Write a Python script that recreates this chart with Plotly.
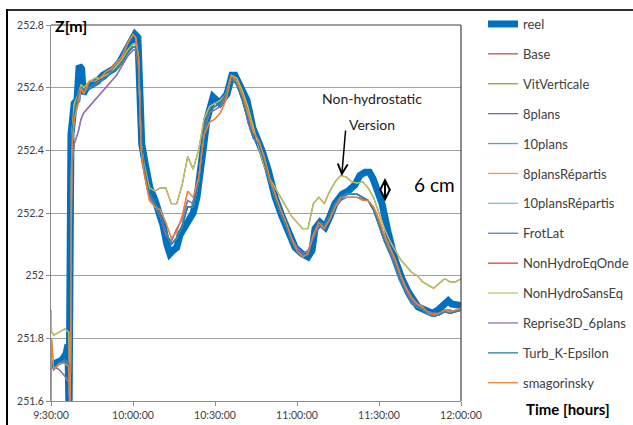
import plotly.graph_objects as go
from datetime import datetime, timedelta

# ---------------- data (minutes after 9:30:00, water level Z in m) ----------------
T_REEL = [0, 2, 4, 5.5, 6.2, 6.6, 7.3, 8.5, 9.5, 10.3, 11.2, 11.8, 13, 15, 17, 19, 21, 23, 25, 27, 29,
          30.7, 31.8, 32.6, 33.2, 34.4, 36.2, 38.1, 39.9, 41, 42.4, 43.5, 44.6, 46, 47.2, 49, 50.9, 52,
          53.4, 55, 55.6, 57.1, 59.3, 61.8, 64.4, 66.2, 67.3, 69.2, 71.7, 73.9, 75.5, 77.2, 79.4, 82,
          84.5, 86.7, 89.3, 91.8, 94, 95.5, 96.6, 98.4, 100.3, 102.1, 103.9, 106.5, 108.7, 111.2, 113,
          114.9, 116.5, 117.8, 119.5, 121.1, 123.3, 125.9, 128.4, 130.6, 134.3, 137.9, 139.5, 141.6,
          143, 145.3, 146.5, 147.8, 150]
Z_REEL = [251.715, 251.72, 251.73, 251.75, 251.78, 251.55, 252.45, 252.55, 252.56, 252.67, 252.66,
          252.58, 252.60, 252.61, 252.62, 252.64, 252.65, 252.66, 252.68, 252.71, 252.74,
          252.77, 252.76, 252.60, 252.42, 252.36, 252.28, 252.24, 252.19, 252.16, 252.10, 252.07,
          252.08, 252.09, 252.13, 252.16, 252.18, 252.20, 252.25, 252.35, 252.41, 252.50, 252.57,
          252.55, 252.58, 252.64, 252.64, 252.61, 252.56, 252.47, 252.44, 252.40, 252.34, 252.25,
          252.19, 252.14, 252.09, 252.07, 252.06, 252.08, 252.15, 252.17, 252.155, 252.19, 252.23,
          252.26, 252.27, 252.29, 252.32, 252.33, 252.33, 252.31, 252.27, 252.23, 252.14, 252.05,
          251.99, 251.95, 251.90, 251.885, 251.88, 251.89, 251.90, 251.92, 251.91, 251.91, 251.905]

T_MOD = [0, 0.2, 1, 3, 5, 6.5, 7, 7.6, 8.5, 10, 11, 12, 14, 16, 18, 20, 22, 24, 26, 28, 30, 31, 32, 33,
         34, 36, 38, 40, 42, 44, 46, 48, 50, 52, 54, 56, 58, 60, 62, 64, 66, 68, 70, 72, 74, 76, 78, 80,
         82, 84, 86, 88, 90, 92, 94, 96, 98, 100, 102, 104, 106, 108, 110, 112, 114, 116, 118, 120,
         122, 124, 126, 128, 130, 132, 134, 136, 138, 140, 142, 144, 146, 148, 150]

Z_SMAG = [251.60, 251.80, 251.70, 251.72, 251.72, 251.71, 251.55, 252.40, 252.50, 252.55, 252.60,
          252.58, 252.62, 252.62, 252.63, 252.65, 252.66, 252.68, 252.70, 252.74, 252.77, 252.76,
          252.70, 252.40, 252.33, 252.24, 252.22, 252.21, 252.17, 252.12, 252.14, 252.19, 252.27,
          252.25, 252.31, 252.45, 252.49, 252.50, 252.52, 252.56, 252.64, 252.62, 252.58, 252.52,
          252.46, 252.43, 252.38, 252.31, 252.26, 252.21, 252.17, 252.12, 252.08, 252.06, 252.07,
          252.13, 252.17, 252.15, 252.18, 252.22, 252.25, 252.25, 252.25, 252.25, 252.24, 252.24,
          252.22, 252.18, 252.13, 252.09, 252.05, 252.00, 251.96, 251.93, 251.91, 251.90, 251.88,
          251.875, 251.88, 251.89, 251.885, 251.89, 251.895]

Z_BASE = [251.70, 251.72, 251.70, 251.72, 251.73, 251.72, 251.55, 252.45, 252.52, 252.58, 252.60,
          252.59, 252.60, 252.61, 252.62, 252.63, 252.65, 252.66, 252.68, 252.71, 252.73, 252.73,
          252.68, 252.42, 252.35, 252.26, 252.23, 252.19, 252.14, 252.10, 252.12, 252.16, 252.22,
          252.22, 252.30, 252.47, 252.53, 252.54, 252.55, 252.58, 252.63, 252.61, 252.56, 252.50,
          252.44, 252.42, 252.36, 252.30, 252.25, 252.20, 252.16, 252.11, 252.08, 252.06, 252.07,
          252.13, 252.17, 252.16, 252.19, 252.23, 252.25, 252.26, 252.26, 252.26, 252.25, 252.24,
          252.21, 252.16, 252.11, 252.07, 252.03, 251.98, 251.94, 251.91, 251.90, 251.89, 251.88,
          251.87, 251.875, 251.885, 251.88, 251.885, 251.89]

Z_8PLANS = [251.72, 251.72, 251.71, 251.70, 251.68, 251.66, 251.55, 252.35, 252.42, 252.46, 252.50,
            252.52, 252.54, 252.56, 252.58, 252.60, 252.62, 252.64, 252.67, 252.70, 252.72, 252.72,
            252.67, 252.42, 252.34, 252.25, 252.22, 252.19, 252.13, 252.11, 252.15, 252.18, 252.24,
            252.23, 252.30, 252.46, 252.52, 252.53, 252.54, 252.57, 252.63, 252.61, 252.57, 252.49,
            252.44, 252.42, 252.37, 252.31, 252.26, 252.21, 252.16, 252.12, 252.09, 252.07, 252.08,
            252.12, 252.16, 252.15, 252.18, 252.22, 252.24, 252.25, 252.25, 252.25, 252.245, 252.24,
            252.21, 252.17, 252.12, 252.08, 252.04, 251.99, 251.95, 251.92, 251.905, 251.895, 251.885,
            251.88, 251.88, 251.89, 251.89, 251.885, 251.89]

Z_NONHYDRO = [251.89, 251.82, 251.81, 251.82, 251.83, 251.82, 251.55, 252.45, 252.55, 252.58, 252.61,
              252.60, 252.62, 252.63, 252.63, 252.64, 252.65, 252.67, 252.69, 252.72, 252.74, 252.74,
              252.70, 252.42, 252.36, 252.28, 252.27, 252.28, 252.28, 252.23, 252.23, 252.29, 252.38,
              252.34, 252.40, 252.50, 252.54, 252.55, 252.56, 252.58, 252.64, 252.63, 252.59, 252.54,
              252.47, 252.41, 252.35, 252.31, 252.28, 252.25, 252.22, 252.19, 252.17, 252.15, 252.15,
              252.23, 252.25, 252.23, 252.27, 252.30, 252.32, 252.315, 252.30, 252.295, 252.30, 252.28,
              252.25, 252.20, 252.15, 252.11, 252.08, 252.05, 252.03, 252.01, 252.00, 251.98, 251.97,
              251.96, 251.975, 251.99, 251.98, 251.98, 251.99]

SERIES = ["Base", "VitVerticale", "8plans", "10plans", "8plansRépartis", "10plansRépartis", "FrotLat",
          "NonHydroEqOnde", "NonHydroSansEq", "Reprise3D_6plans", "Turb_K-Epsilon", "smagorinsky"]
SERIES_DATA = [Z_BASE, Z_BASE, Z_8PLANS, Z_BASE, Z_SMAG, Z_BASE, Z_BASE,
               Z_NONHYDRO, Z_NONHYDRO, Z_8PLANS, Z_BASE, Z_SMAG]
SERIES_COLORS = ["#C0504D", "#84A843", "#8064A2", "#4BACC6", "#F79646", "#74C6DC", "#4F81BD",
                 "#E0403A", "#A8CF62", "#8E74B0", "#2A7FA0", "#EE8030"]

X_TICK_MIN = [0, 30, 60, 90, 120, 150]
X_TICK_LABELS = ["9:30:00", "10:00:00", "10:30:00", "11:00:00", "11:30:00", "12:00:00"]
Y_TICKS = [251.6, 251.8, 252.0, 252.2, 252.4, 252.6, 252.8]
Y_TICK_LABELS = ["251.6", "251.8", "252", "252.2", "252.4", "252.6", "252.8"]

T0 = datetime(2024, 1, 1, 9, 30, 0)


def to_time(mins):
    return [(T0 + timedelta(minutes=m)).strftime("%Y-%m-%d %H:%M:%S.%f") for m in mins]


# ---------------- figure ----------------
W, H = 633, 425
L, R, T, B = 51, 172, 25, 24
PW, PH = W - L - R, H - T - B


def px(x):
    return (x - L) / PW


def py(y):
    return (H - B - y) / PH


FONT = "Lato, 'Open Sans', sans-serif"

fig = go.Figure()
fig.add_trace(go.Scatter(x=to_time(T_REEL), y=Z_REEL, mode="lines", name="reel",
                         line=dict(color="#0070C0", width=7), legendgroup="reel"))
for name, z, c in zip(SERIES, SERIES_DATA, SERIES_COLORS):
    fig.add_trace(go.Scatter(x=to_time(T_MOD), y=z, mode="lines", name=name,
                             line=dict(color=c, width=1.3), legendgroup=name))

fig.update_layout(
    width=W, height=H,
    margin=dict(l=L, r=R, t=T, b=B, autoexpand=False),
    paper_bgcolor="white", plot_bgcolor="white",
    font=dict(family=FONT, color="#404040"),
    showlegend=True,
    legend=dict(x=px(483), y=py(9), xanchor="left", yanchor="top",
                font=dict(size=13, color="#404040", family=FONT),
                tracegroupgap=10, bgcolor="rgba(0,0,0,0)", itemwidth=30,
                maxheight=425),
    xaxis=dict(type="date", range=to_time([0, 150]),
               tickvals=to_time(X_TICK_MIN), ticktext=X_TICK_LABELS,
               showgrid=False, showline=True, linecolor="#8c8c8c", linewidth=1,
               ticks="outside", ticklen=4, tickcolor="#8c8c8c",
               tickfont=dict(size=10.5, color="#404040", family=FONT), zeroline=False),
    yaxis=dict(range=[251.6, 252.8], tickvals=Y_TICKS, ticktext=Y_TICK_LABELS,
               showgrid=True, gridcolor="#a0a0a0", gridwidth=1,
               showline=True, linecolor="#8c8c8c", linewidth=1,
               ticks="outside", ticklen=4, tickcolor="#8c8c8c",
               tickfont=dict(size=10.5, color="#404040", family=FONT), zeroline=False),
)

shapes = [
    # plot-area top and right border
    dict(type="line", xref="paper", yref="paper", x0=0, x1=1, y0=1, y1=1,
         line=dict(color="#404040", width=1.2)),
    dict(type="line", xref="paper", yref="paper", x0=1, x1=1, y0=0, y1=1,
         line=dict(color="#404040", width=1.2)),
]
fig.update_layout(shapes=shapes)

ann = [
    dict(text="<b>Z[m]</b>", x=px(53), y=py(25), xref="paper", yref="paper", xanchor="left",
         yanchor="middle", showarrow=False, font=dict(size=16, color="#000000", family=FONT)),
    dict(text="<b>Time [hours]</b>", x=px(524), y=py(409), xref="paper", yref="paper",
         xanchor="left", yanchor="middle", showarrow=False,
         font=dict(size=15, color="#000000", family=FONT)),
    dict(text="Non-hydrostatic", x=px(372), y=py(99), xref="paper", yref="paper",
         xanchor="center", yanchor="middle", showarrow=False,
         font=dict(size=14, color="#222222", family=FONT)),
    dict(text="Version", x=px(372), y=py(124), xref="paper", yref="paper",
         xanchor="center", yanchor="middle", showarrow=False,
         font=dict(size=14, color="#222222", family=FONT)),
    dict(text="", x=px(341.7), y=py(176), xref="paper", yref="paper",
         ax=4, ay=-47, showarrow=True, arrowhead=5, arrowsize=1.3, arrowwidth=1.5,
         arrowcolor="#000000"),
    dict(text="", x=px(385), y=py(201.5), xref="paper", yref="paper",
         ax=0, ay=-25, showarrow=True, arrowhead=5, startarrowhead=5, arrowside="end+start",
         arrowsize=1.0, startarrowsize=1.0, arrowwidth=2, arrowcolor="#000000"),
    dict(text="6 cm", x=px(412), y=py(185), xref="paper", yref="paper",
         xanchor="left", yanchor="middle", showarrow=False,
         font=dict(size=19, color="#000000", family=FONT)),
]
fig.update_layout(annotations=ann)

# page tweaks: remove default body margin, and draw the outer chart frame (top + left edge)
POST = """
document.body.style.margin='0';
document.body.style.padding='0';
function frameLine(l, t, w, h, c) {
  var d = document.createElement('div');
  d.style.position = 'absolute';
  d.style.left = l + 'px'; d.style.top = t + 'px';
  d.style.width = w + 'px'; d.style.height = h + 'px';
  d.style.background = c; d.style.pointerEvents = 'none'; d.style.zIndex = '1000';
  document.body.appendChild(d);
}
frameLine(6, 9, 627, 1.5, '#303030');
frameLine(5.5, 9, 2.5, 416, '#000000');
"""

fig.write_html("out.html", config={"displayModeBar": False}, post_script=POST)
